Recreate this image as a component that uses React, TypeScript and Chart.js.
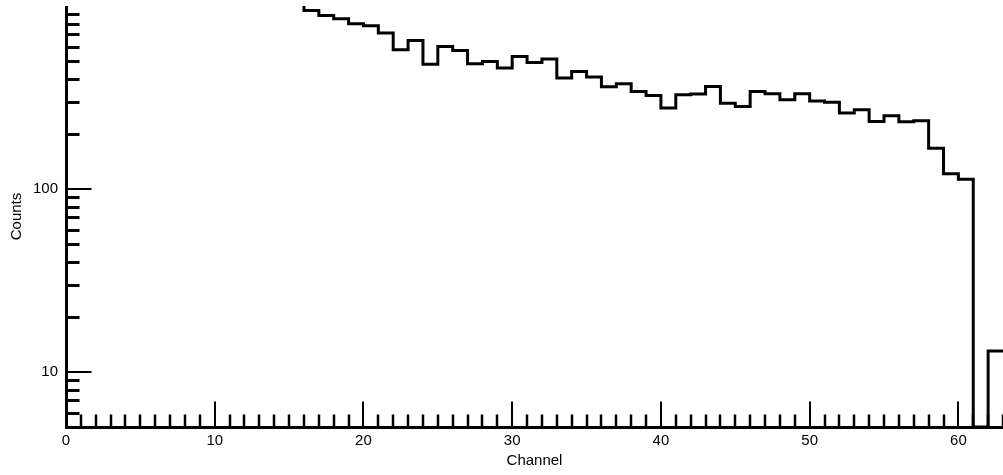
import React, { useEffect, useRef } from 'react';
import { Chart, registerables } from 'chart.js';

Chart.register(...registerables);

// Left edge of each histogram bin (channel number)
const binStarts = [
  0, 1, 2, 3, 4, 5, 6, 7, 8, 9, 10, 11, 12, 13, 14, 15, 16, 17, 18, 19, 20,
  21, 22, 23, 24, 25, 26, 27, 28, 29, 30, 31, 32, 33, 34, 35, 36, 37, 38, 39,
  40, 41, 42, 43, 44, 45, 46, 47, 48, 49, 50, 51, 52, 53, 54, 55, 56, 57, 58,
  59, 60, 61, 62,
];
// Counts per channel (bins 0-15 lie above the plotted range)
const counts = [
  1600, 1560, 1520, 1480, 1440, 1400, 1360, 1320, 1280, 1240, 1200, 1170, 1140, 1110, 1080, 1050,
  946, 888, 852, 800, 780, 711, 577, 648, 481, 601, 571, 483, 498, 458, 530, 491, 513, 404, 439,
  409, 362, 376, 341, 324, 277, 327, 330, 363, 294, 282, 341, 331, 307, 331, 303, 298, 260, 271,
  234, 251, 233, 236, 167, 121, 113, 0, 13,
];
const lastEdge = 63;

const xMajorTicks = [0, 10, 20, 30, 40, 50, 60];
const xMinorTicks = [
  1, 2, 3, 4, 5, 6, 7, 8, 9, 11, 12, 13, 14, 15, 16, 17, 18, 19, 21, 22, 23, 24, 25, 26, 27,
  28, 29, 31, 32, 33, 34, 35, 36, 37, 38, 39, 41, 42, 43, 44, 45, 46, 47, 48, 49, 51, 52, 53,
  54, 55, 56, 57, 58, 59, 61, 62, 63,
];
const yMajorTicks = [10, 100];
const yMinorTicks = [6, 7, 8, 9, 20, 30, 40, 50, 60, 70, 80, 90, 200, 300, 400, 500, 600, 700, 800, 900];
const yMin = 5;
const yMax = 1000;

const FONT = "'Liberation Sans', Arial, Helvetica, sans-serif";

const inwardTicks = {
  id: 'inwardTicks',
  afterDatasetsDraw(chart: any) {
    const { ctx, chartArea, scales } = chart;
    const { right, top, bottom, left } = chartArea;
    const x = scales.x;
    const y = scales.y;
    ctx.save();
    ctx.strokeStyle = '#000';
    ctx.lineCap = 'butt';
    const axisX = left + 0.5;
    const axisY = bottom + 0.5;
    xMinorTicks.forEach((v) => {
      const px = Math.round(x.getPixelForValue(v));
      ctx.lineWidth = 2.5;
      ctx.beginPath();
      ctx.moveTo(px, axisY);
      ctx.lineTo(px, axisY - 13);
      ctx.stroke();
    });
    xMajorTicks.forEach((v) => {
      const px = Math.round(x.getPixelForValue(v));
      ctx.lineWidth = 2;
      ctx.beginPath();
      ctx.moveTo(px, axisY);
      ctx.lineTo(px, axisY - 26);
      ctx.stroke();
    });
    yMinorTicks.forEach((v) => {
      const py = Math.round(y.getPixelForValue(v)) + 0.5;
      ctx.lineWidth = 3;
      ctx.beginPath();
      ctx.moveTo(axisX, py);
      ctx.lineTo(axisX + 13, py);
      ctx.stroke();
    });
    yMajorTicks.forEach((v) => {
      const py = Math.round(y.getPixelForValue(v));
      ctx.lineWidth = 2;
      ctx.beginPath();
      ctx.moveTo(axisX, py);
      ctx.lineTo(axisX + 25, py);
      ctx.stroke();
    });
    ctx.lineWidth = 3;
    ctx.beginPath();
    ctx.moveTo(axisX, top);
    ctx.lineTo(axisX, axisY);
    ctx.lineTo(right, axisY);
    ctx.stroke();
    ctx.restore();
  },
};

export default function App() {
  const canvasRef = useRef<HTMLCanvasElement | null>(null);

  useEffect(() => {
    const canvas = canvasRef.current;
    if (!canvas) return;
    // empty channels are drawn on the axis floor (log scale cannot show 0)
    const points = binStarts.map((b, i) => ({ x: b, y: counts[i] > 0 ? counts[i] : yMin }));
    points.push({ x: lastEdge, y: counts[counts.length - 1] });

    const chart = new Chart(canvas, {
      type: 'line',
      data: {
        datasets: [
          {
            data: points,
            borderColor: '#000',
            borderWidth: 3,
            pointRadius: 0,
            stepped: 'before',
            fill: false,
            clip: 0,
          } as any,
        ],
      },
      options: {
        animation: false,
        responsive: false,
        maintainAspectRatio: false,
        events: [],
        layout: { padding: { top: 6, left: 0, right: 0, bottom: 0 } },
        plugins: {
          legend: { display: false },
          tooltip: { enabled: false },
          title: { display: false },
        },
        scales: {
          x: {
            type: 'linear',
            min: 0,
            max: lastEdge,
            grid: { display: false, drawTicks: false },
            border: { display: false },
            afterBuildTicks: (scale: any) => {
              scale.ticks = xMajorTicks.map((v) => ({ value: v }));
            },
            afterFit: (scale: any) => {
              scale.height = 48;
              scale.paddingLeft = 0;
              scale.paddingRight = 0;
            },
            ticks: {
              color: '#000',
              padding: 5,
              maxRotation: 0,
              autoSkip: false,
              font: { family: FONT, size: 15 },
              callback: (v: any) => String(v),
            },
            title: {
              display: true,
              text: 'Channel',
              color: '#000',
              font: { family: FONT, size: 15 },
              padding: { top: 0, bottom: 5 },
            },
          },
          y: {
            type: 'logarithmic',
            min: yMin,
            max: yMax,
            grid: { display: false, drawTicks: false },
            border: { display: false },
            afterBuildTicks: (scale: any) => {
              scale.ticks = yMajorTicks.map((v) => ({ value: v }));
            },
            afterFit: (scale: any) => {
              scale.width = 66;
              scale.paddingTop = 0;
              scale.paddingBottom = 0;
            },
            ticks: {
              color: '#000',
              padding: 8,
              autoSkip: false,
              font: { family: FONT, size: 15 },
              callback: (v: any) => String(v),
            },
            title: {
              display: true,
              text: 'Counts',
              color: '#000',
              font: { family: FONT, size: 15 },
              padding: { top: 8, bottom: 0 },
            },
          },
        },
      },
      plugins: [inwardTicks],
    });
    return () => chart.destroy();
  }, []);

  return (
    <div style={{ position: 'fixed', left: 0, top: 0, width: 1003, height: 475, background: '#fff' }}>
      <canvas ref={canvasRef} width={1003} height={475} style={{ width: 1003, height: 475, display: 'block' }} />
    </div>
  );
}
